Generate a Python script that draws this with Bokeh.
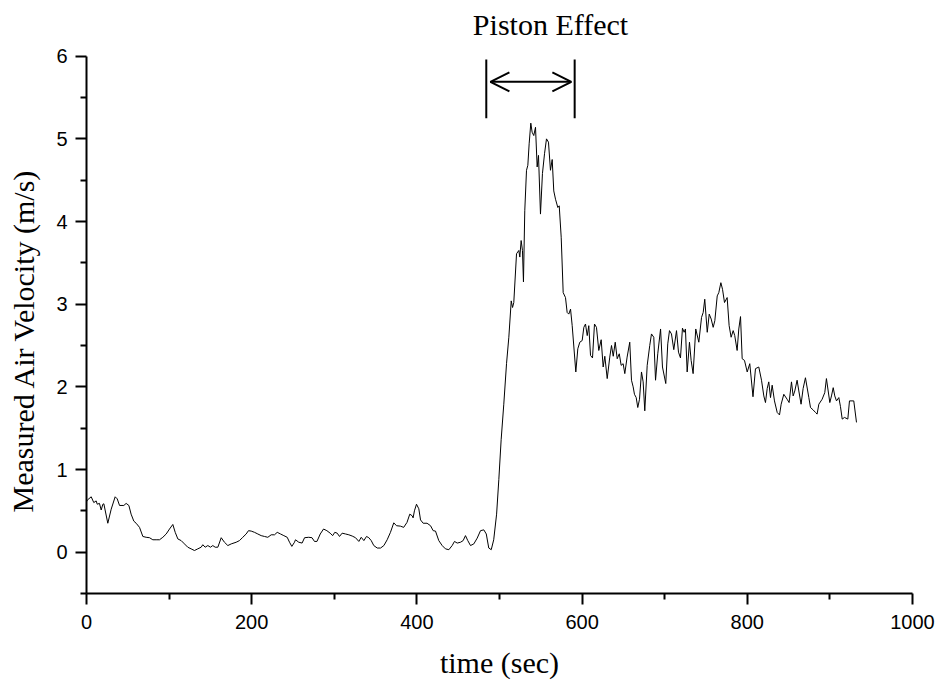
from bokeh.plotting import figure
from bokeh.models import Range1d, FixedTicker, Arrow, OpenHead
from bokeh.core.properties import value
from bokeh.embed import file_html
from bokeh.resources import INLINE

# ---- data ----
time_s = [0, 1, 5.7, 8.8, 11.7, 13, 15.7, 17.8, 19.8, 21, 25.8, 29.9, 34.7, 37.2, 40, 45.2, 48, 51.3, 54, 57.3,
          60.1, 64.2, 68.2, 72.2, 76.3, 80.3, 84.3, 88.4, 92.4, 96.5, 100.5, 104.5, 107.4, 110.6, 114.6, 118.6,
          122.6, 126.7, 130.7, 134.7, 138.8, 140.8, 143.7, 146.9, 150.1, 152.9, 155.8, 159, 163.1, 167, 171.1,
          175.2, 181.2, 185.2, 189.2, 193.3, 196.1, 199.4, 203.4, 207.4, 211.5, 215.5, 219.5, 223.6, 227.6,
          230.9, 234.9, 238.9, 243, 245.8, 248.6, 251.8, 253, 257, 261, 264, 269, 273, 276, 279, 283, 287, 291,
          295, 298, 300.6, 303.5, 306.3, 309.5, 313.6, 317.6, 321.7, 325.7, 329.7, 332.6, 335.8, 339, 341.8,
          344.7, 347.8, 352, 356, 360, 364, 368, 372, 375.3, 380, 384, 388, 391.4, 394.3, 395.4, 397, 399.5,
          402.3, 404.4, 407.6, 412.3, 416.5, 419.7, 422.5, 426.5, 430.6, 434.6, 438.7, 442.7, 445.5, 448.8,
          452.8, 456, 458.8, 461.6, 464.9, 468.9, 473, 477, 481, 484, 487, 490, 493, 496.5, 499.2, 502, 505.2,
          508.5, 511.3, 514.2, 515.8, 517.3, 520.6, 523.4, 524.6, 526.2, 527.8, 529, 530.6, 532.7, 534.3,
          535.9, 537.9, 539.5, 541.5, 543.6, 545.6, 547.2, 549.6, 552, 554.5, 556.9, 559.3, 561.7, 563.8,
          565.7, 567.8, 570.6, 572.3, 574.7, 577.1, 579.9, 581.9, 583.9, 586, 588, 592.4, 594.8, 597.2, 600.1,
          602.1, 604.1, 606.2, 608.1, 610.2, 612.6, 615, 617.4, 620.2, 623.1, 625.5, 627.5, 630.4, 633.5,
          635.6, 637.7, 640.1, 642.5, 645, 647.3, 649.7, 651.7, 654.5, 657.7, 659.8, 661.8, 663.4, 665.5,
          667.4, 669.5, 671.9, 673.9, 675.9, 678.8, 681.9, 684, 686.8, 688.9, 691.6, 695, 697.3, 701.3, 703.7,
          705.8, 708.2, 711, 714.3, 716.7, 719.1, 721.5, 723.5, 725.1, 727.2, 730, 732, 734.4, 737.6, 741.3,
          744.6, 746.6, 748.5, 751.5, 753.9, 756.3, 758.7, 760.7, 763.6, 765.5, 768, 770, 772.4, 775.6, 778,
          780.4, 782.9, 784.8, 787.7, 789.7, 791.8, 793.8, 796.6, 799.9, 803, 806.9, 809.9, 813.9, 817.2, 820,
          822, 824.1, 826, 828.1, 830.1, 832.9, 836.2, 839, 841, 844.2, 848.2, 850.6, 853.5, 855.5, 857.5,
          860.3, 862.4, 865.1, 867.6, 870.4, 874.5, 876.5, 879.8, 882.6, 884.5, 886.6, 890.6, 893.8, 895.8,
          899.9, 901.9, 904, 905.9, 908, 910.8, 912.8, 914.9, 917.7, 921.7, 923.7, 928.9, 932.2]

velocity = [0.61, 0.63, 0.67, 0.60, 0.62, 0.58, 0.59, 0.51, 0.58, 0.585, 0.35, 0.52, 0.67, 0.645, 0.565, 0.565,
            0.59, 0.565, 0.46, 0.375, 0.35, 0.30, 0.19, 0.18, 0.175, 0.15, 0.15, 0.15, 0.18, 0.22, 0.28, 0.335,
            0.24, 0.16, 0.14, 0.10, 0.06, 0.04, 0.02, 0.04, 0.06, 0.09, 0.06, 0.08, 0.06, 0.08, 0.06, 0.06,
            0.175, 0.12, 0.08, 0.10, 0.12, 0.14, 0.18, 0.22, 0.26, 0.255, 0.24, 0.22, 0.20, 0.19, 0.18, 0.21,
            0.21, 0.24, 0.22, 0.20, 0.18, 0.12, 0.07, 0.12, 0.15, 0.12, 0.11, 0.175, 0.18, 0.175, 0.13, 0.13,
            0.22, 0.28, 0.26, 0.23, 0.20, 0.24, 0.23, 0.19, 0.23, 0.22, 0.21, 0.195, 0.175, 0.13, 0.18, 0.14,
            0.19, 0.175, 0.14, 0.08, 0.05, 0.05, 0.08, 0.15, 0.24, 0.355, 0.32, 0.315, 0.30, 0.36, 0.46, 0.44,
            0.415, 0.50, 0.58, 0.525, 0.39, 0.35, 0.35, 0.32, 0.26, 0.255, 0.14, 0.08, 0.04, 0.03, 0.08, 0.13,
            0.11, 0.12, 0.14, 0.20, 0.14, 0.08, 0.10, 0.17, 0.26, 0.27, 0.22, 0.05, 0.03, 0.15, 0.46, 0.88,
            1.36, 1.79, 2.28, 2.60, 3.04, 2.96, 3.02, 3.61, 3.65, 3.57, 3.77, 3.65, 3.27, 4.13, 4.62, 4.68,
            4.94, 5.19, 5.08, 5.04, 5.14, 4.66, 4.80, 4.09, 4.58, 4.82, 5.00, 4.96, 4.62, 4.75, 4.37, 4.27,
            4.17, 4.19, 3.81, 3.14, 3.08, 2.90, 2.88, 2.94, 2.74, 2.18, 2.46, 2.54, 2.56, 2.72, 2.76, 2.62,
            2.74, 2.38, 2.35, 2.76, 2.72, 2.44, 2.57, 2.24, 2.37, 2.10, 2.36, 2.50, 2.37, 2.54, 2.34, 2.40,
            2.26, 2.28, 2.16, 2.36, 2.54, 2.08, 2.00, 1.91, 1.87, 1.75, 1.85, 2.18, 2.06, 1.71, 2.26, 2.50,
            2.64, 2.60, 2.08, 2.40, 2.70, 2.24, 2.04, 2.52, 2.68, 2.64, 2.45, 2.68, 2.42, 2.35, 2.71, 2.66,
            2.70, 2.18, 2.54, 2.32, 2.16, 2.70, 2.54, 2.84, 2.90, 3.06, 2.66, 2.88, 2.82, 2.72, 2.80, 3.10,
            3.14, 3.26, 3.18, 3.02, 3.08, 2.74, 2.60, 2.68, 2.62, 2.44, 2.70, 2.85, 2.34, 2.32, 2.18, 2.28,
            1.88, 2.22, 2.24, 2.08, 1.89, 1.81, 1.98, 2.06, 1.87, 2.02, 1.83, 1.69, 1.66, 1.79, 1.91, 1.85,
            1.81, 2.06, 1.89, 1.95, 2.08, 1.95, 1.79, 1.98, 2.11, 1.87, 1.75, 1.72, 1.69, 1.67, 1.79, 1.85,
            1.93, 2.10, 1.81, 1.89, 1.99, 1.89, 1.83, 1.87, 1.76, 1.61, 1.63, 1.61, 1.83, 1.83, 1.57]

x_major_ticks = [0, 200, 400, 600, 800, 1000]
x_minor_ticks = [100, 300, 500, 700, 900]
y_major_ticks = [0, 1, 2, 3, 4, 5, 6]
y_minor_ticks = [-0.5, 0.5, 1.5, 2.5, 3.5, 4.5, 5.5]
x_axis_range = (0, 1000)
y_axis_range = (-0.5, 6)

piston_start = 484      # s, left bar of the "Piston Effect" marker
piston_end = 591        # s, right bar
piston_label = "Piston Effect"
x_title = "time (sec)"
y_title = "Measured Air Velocity (m/s)"

SERIF = "Liberation Serif"
SANS = "Liberation Sans"

# ---- layout: the frame fills the whole canvas; axes sit at fixed data locations ----
W, H = 935, 685
AX_LEFT_PX, AX_RIGHT_PX = 86.0, 912.0     # page x of x=0 and x=1000
AX_TOP_PX, AX_BOTTOM_PX = 55.7, 593.0     # page y of y=6 and y=-0.5
sx = (AX_RIGHT_PX - AX_LEFT_PX) / (x_axis_range[1] - x_axis_range[0])
sy = (AX_BOTTOM_PX - AX_TOP_PX) / (y_axis_range[1] - y_axis_range[0])
x0 = x_axis_range[0] - AX_LEFT_PX / sx
x1 = x_axis_range[0] + (W - AX_LEFT_PX) / sx
y1 = y_axis_range[1] + AX_TOP_PX / sy
y0 = y_axis_range[0] - (H - AX_BOTTOM_PX) / sy

def px_to_x(px):
    return x_axis_range[0] + (px - AX_LEFT_PX) / sx

def py_to_y(py):
    return y_axis_range[0] + (AX_BOTTOM_PX - py) / sy

p = figure(width=W, height=H, output_backend="svg", toolbar_location=None,
           x_range=Range1d(x0, x1), y_range=Range1d(y0, y1),
           min_border_left=0, min_border_right=0, min_border_top=0, min_border_bottom=0)
p.outline_line_color = None
p.xgrid.visible = False
p.ygrid.visible = False
p.background_fill_color = "white"
p.border_fill_color = "white"

p.line(time_s, velocity, line_color="black", line_width=1)

# piston effect marker
p.segment(x0=[piston_start, piston_end], y0=[5.25, 5.25], x1=[piston_start, piston_end], y1=[5.96, 5.96],
          line_color="black", line_width=2)
p.add_layout(Arrow(start=OpenHead(size=19, line_width=2, line_color="black"),
                   end=OpenHead(size=19, line_width=2, line_color="black"),
                   x_start=piston_start + 5, x_end=piston_end - 4, y_start=5.69, y_end=5.69,
                   line_color="black", line_width=2))

# texts
p.text(x=[px_to_x(550)], y=[py_to_y(24)], text=[piston_label], text_font=value(SERIF),
       text_font_size="30px", text_align="center", text_baseline="middle", text_color="black")
p.text(x=[px_to_x(499)], y=[py_to_y(662)], text=[x_title], text_font=value(SERIF),
       text_font_size="30px", text_align="center", text_baseline="middle", text_color="black")
p.text(x=[px_to_x(22.5)], y=[py_to_y(340)], text=[y_title], text_font=value(SERIF), angle=1.5707963,
       text_font_size="30px", text_align="center", text_baseline="middle", text_color="black")

for ax in (p.xaxis[0], p.yaxis[0]):
    ax.axis_line_width = 2
    ax.major_tick_line_width = 2
    ax.minor_tick_line_width = 2
    ax.major_tick_out = 11
    ax.major_tick_in = 0
    ax.minor_tick_out = 6
    ax.minor_tick_in = 0
    ax.major_label_text_font = SANS
    ax.major_label_text_font_size = "20px"
    ax.major_label_text_color = "black"

p.xaxis.fixed_location = y_axis_range[0]
p.yaxis.fixed_location = x_axis_range[0]
p.xaxis.bounds = x_axis_range
p.yaxis.bounds = y_axis_range
p.xaxis.ticker = FixedTicker(ticks=x_major_ticks, minor_ticks=x_minor_ticks)
p.yaxis.ticker = FixedTicker(ticks=y_major_ticks, minor_ticks=y_minor_ticks)
p.xaxis.major_label_standoff = 10
p.yaxis.major_label_standoff = 8

open("out.html", "w").write(file_html(p, INLINE))
